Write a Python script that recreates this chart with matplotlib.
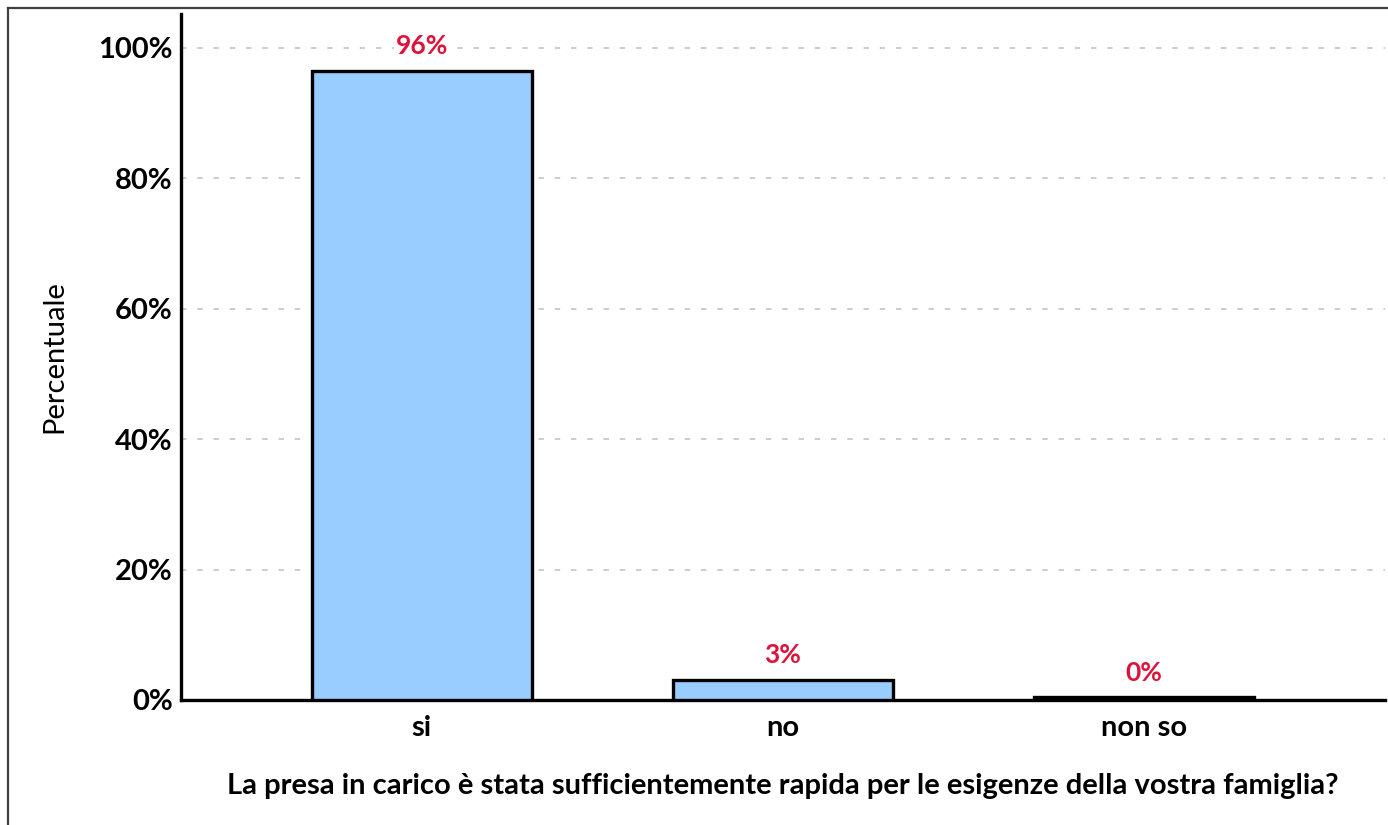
import matplotlib.pyplot as plt
from matplotlib.lines import Line2D

categories = ['si', 'no', 'non so']
values = [96.5, 3.1, 0.4]
labels = ['96%', '3%', '0%']
yticks = [0, 20, 40, 60, 80, 100]

plt.rcParams['font.family'] = ['Lato', 'DejaVu Sans']

fig = plt.figure(figsize=(13.88, 8.25), dpi=100)
ax = fig.add_axes([181 / 1388, 125 / 825, 1204 / 1388, 686 / 825])

x = list(range(len(categories)))
ax.bar(x, values, width=0.61, color='#99ccff', edgecolor='black', linewidth=2.4, zorder=3)

for xi, v, lab in zip(x, values, labels):
    ax.annotate(lab, (xi, v), xytext=(0, 9), textcoords='offset points',
                ha='center', va='bottom', color='#dc143c', fontsize=19, fontweight='bold',
                bbox=dict(facecolor='white', edgecolor='none', pad=1), zorder=4)

ax.set_xlim(-0.667, 2.667)
ax.set_ylim(0, 105.2)
ax.set_xticks(x)
ax.set_xticklabels(categories, fontsize=21, fontweight='bold')
ax.set_yticks(yticks)
ax.set_yticklabels([f'{t}%' for t in yticks], fontsize=21, fontweight='bold')
ax.tick_params(axis='y', length=0, pad=6)
ax.tick_params(axis='x', length=0, pad=11)

ax.yaxis.grid(True, color='#c8c8c8', linestyle=(0, (3, 6)), linewidth=1.3, zorder=0)
for t in ax.yaxis.get_gridlines()[:1]:
    t.set_visible(False)

for s in ['top', 'right']:
    ax.spines[s].set_visible(False)
ax.spines['left'].set_linewidth(2.4)
ax.spines['bottom'].set_linewidth(2.4)

ax.set_ylabel('Percentuale', fontsize=21, labelpad=22)
ax.set_xlabel('La presa in carico è stata sufficientemente rapida per le esigenze della vostra famiglia?',
              fontsize=21, fontweight='bold', labelpad=23)

# outer frame (left and top edges visible)
fig.add_artist(Line2D([8 / 1388, 8 / 1388], [0, 1 - 8 / 825], color='#404040', linewidth=1.6))
fig.add_artist(Line2D([8 / 1388, 1], [1 - 8 / 825, 1 - 8 / 825], color='#404040', linewidth=1.6))

fig.savefig('out.png', dpi=100)
